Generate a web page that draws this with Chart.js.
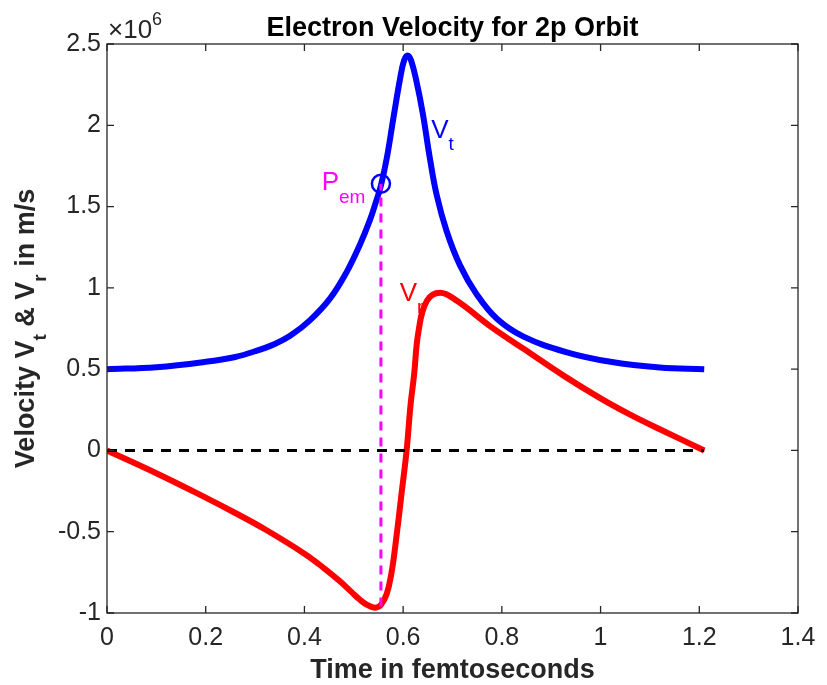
<!DOCTYPE html>
<html>
<head>
<meta charset="utf-8">
<script src="https://cdn.jsdelivr.net/npm/chart.js@4/dist/chart.umd.min.js"></script>
<style>
  html, body { margin: 0; padding: 0; background: #fff; }
  #wrap { width: 827px; height: 685px; position: relative; }
</style>
</head>
<body>
<div id="wrap"><canvas id="chart"></canvas></div>
<script>
// velocities in units of 1e6 m/s, time in fs
const tVt = [0, 0.1, 0.2, 0.26, 0.3, 0.34, 0.371, 0.411, 0.452, 0.486, 0.513, 0.533, 0.545, 0.555,
  0.567, 0.58, 0.594, 0.602, 0.609, 0.616, 0.627, 0.64, 0.654, 0.668, 0.688, 0.715, 0.749, 0.79,
  0.844, 0.93, 1.02, 1.12, 1.21];
const vt = [0.5, 0.512, 0.545, 0.575, 0.61, 0.655, 0.705, 0.8, 0.935, 1.1, 1.27, 1.42, 1.53, 1.63,
  1.8, 2.04, 2.29, 2.4, 2.43, 2.4, 2.27, 2.07, 1.8, 1.57, 1.35, 1.14, 0.96, 0.81,
  0.7, 0.605, 0.545, 0.51, 0.5];

const tVr = [0, 0.1, 0.19, 0.26, 0.32, 0.4, 0.44, 0.472, 0.495, 0.512, 0.528, 0.543, 0.555, 0.567,
  0.576, 0.584, 0.597, 0.607, 0.615, 0.622, 0.631, 0.648, 0.675, 0.709, 0.776, 0.844, 0.925, 1.0,
  1.06, 1.12, 1.21];
const vr = [0, -0.14, -0.275, -0.385, -0.485, -0.635, -0.725, -0.805, -0.87, -0.917, -0.952, -0.967,
  -0.95, -0.88, -0.76, -0.59, -0.26, 0, 0.28, 0.46, 0.73, 0.92, 0.97, 0.92, 0.765, 0.625, 0.46, 0.32,
  0.22, 0.13, 0];

const zeroT = [0, 1.21];
const zeroV = [0, 0];
const pemT = [0.555, 0.555];
const pemV = [-0.96, 1.64];
const pemPoint = { t: 0.555, v: 1.64 };

const xTickVals = [0, 0.2, 0.4, 0.6, 0.8, 1, 1.2, 1.4];
const yTickVals = [-1, -0.5, 0, 0.5, 1, 1.5, 2, 2.5];

const AX = '#262626';
const FONT = '"Liberation Sans", Arial, sans-serif';

function pts(xs, ys) {
  return xs.map((x, i) => ({ x: x, y: ys[i] }));
}

// draw text made of [text, isSub] parts, left to right
function drawParts(ctx, parts, x, y, size, subSize, bold, color, subDrop) {
  ctx.fillStyle = color;
  ctx.textBaseline = 'alphabetic';
  ctx.textAlign = 'left';
  let cx = x;
  parts.forEach(([txt, sub]) => {
    ctx.font = (bold ? 'bold ' : '') + (sub ? subSize : size) + 'px ' + FONT;
    ctx.fillText(txt, cx, sub ? y + subDrop : y);
    cx += ctx.measureText(txt).width;
  });
  return cx - x;
}

function partsWidth(ctx, parts, size, subSize, bold) {
  let w = 0;
  parts.forEach(([txt, sub]) => {
    ctx.font = (bold ? 'bold ' : '') + (sub ? subSize : size) + 'px ' + FONT;
    w += ctx.measureText(txt).width;
  });
  return w;
}

const decorations = {
  id: 'decorations',
  afterDraw(chart) {
    const { ctx, chartArea: a, scales } = chart;
    const xs = scales.x, ys = scales.y;
    ctx.save();

    // box
    ctx.strokeStyle = AX;
    ctx.lineWidth = 1.3;
    ctx.strokeRect(a.left, a.top, a.right - a.left, a.bottom - a.top);

    // inward ticks on all sides
    const tl = 7;
    ctx.beginPath();
    xTickVals.forEach(v => {
      const px = xs.getPixelForValue(v);
      ctx.moveTo(px, a.bottom); ctx.lineTo(px, a.bottom - tl);
      ctx.moveTo(px, a.top); ctx.lineTo(px, a.top + tl);
    });
    yTickVals.forEach(v => {
      const py = ys.getPixelForValue(v);
      ctx.moveTo(a.left, py); ctx.lineTo(a.left + tl, py);
      ctx.moveTo(a.right, py); ctx.lineTo(a.right - tl, py);
    });
    ctx.stroke();

    // title
    ctx.fillStyle = '#000';
    ctx.font = 'bold 27px ' + FONT;
    ctx.textAlign = 'center';
    ctx.textBaseline = 'alphabetic';
    ctx.fillText('Electron Velocity for 2p Orbit', (a.left + a.right) / 2, 36);

    // x label
    ctx.fillStyle = AX;
    ctx.fillText('Time in femtoseconds', (a.left + a.right) / 2, 678);

    // y label (rotated, with subscripts)
    const yParts = [['Velocity V', false], ['t', true], [' & V', false], ['r', true], [' in m/s', false]];
    const w = partsWidth(ctx, yParts, 27, 19, true);
    ctx.save();
    ctx.translate(34, (a.top + a.bottom) / 2);
    ctx.rotate(-Math.PI / 2);
    drawParts(ctx, yParts, -w / 2, 0, 27, 19, true, AX, 12);
    ctx.restore();

    // exponent
    const xw = drawParts(ctx, [['\u00d710', false]], a.left + 1, 38, 26, 18, false, AX, 0);
    ctx.font = '18px ' + FONT;
    ctx.fillStyle = AX;
    ctx.fillText('6', a.left + 1 + xw, 25);

    // curve labels
    drawParts(ctx, [['V', false], ['t', true]], xs.getPixelForValue(0.657), ys.getPixelForValue(1.92),
      26, 19, false, '#0000ff', 12);
    drawParts(ctx, [['P', false], ['em', true]], xs.getPixelForValue(0.435), ys.getPixelForValue(1.6),
      26, 19, false, '#ff00ff', 13);
    drawParts(ctx, [['V', false], ['r', true]], xs.getPixelForValue(0.593), ys.getPixelForValue(0.92),
      26, 19, false, '#ff0000', 12);

    ctx.restore();
  }
};

new Chart(document.getElementById('chart'), {
  type: 'line',
  data: {
    datasets: [
      {
        label: 'Pem',
        data: [{ x: pemPoint.t, y: pemPoint.v }],
        showLine: false,
        pointStyle: 'circle',
        pointRadius: 9,
        pointBorderWidth: 2.5,
        pointBorderColor: '#0000ff',
        pointBackgroundColor: 'rgba(0,0,0,0)',
        order: 0
      },
      {
        label: 'Pem line',
        data: pts(pemT, pemV),
        borderColor: '#ff00ff',
        borderWidth: 3,
        borderDash: [9, 7],
        pointRadius: 0,
        order: 1
      },
      {
        label: 'zero',
        data: pts(zeroT, zeroV),
        borderColor: '#000000',
        borderWidth: 3,
        borderDash: [10, 8],
        pointRadius: 0,
        order: 1
      },
      {
        label: 'Vt',
        data: pts(tVt, vt),
        borderColor: '#0000ff',
        borderWidth: 6,
        pointRadius: 0,
        tension: 0.4,
        order: 2
      },
      {
        label: 'Vr',
        data: pts(tVr, vr),
        borderColor: '#ff0000',
        borderWidth: 6,
        pointRadius: 0,
        tension: 0.4,
        order: 2
      }
    ]
  },
  options: {
    responsive: true,
    maintainAspectRatio: false,
    animation: false,
    layout: { padding: { top: 44, right: 29, left: 0, bottom: 0 } },
    plugins: {
      legend: { display: false },
      tooltip: { enabled: false },
      title: { display: false }
    },
    scales: {
      x: {
        type: 'linear',
        min: 0,
        max: 1.4,
        afterBuildTicks: s => { s.ticks = xTickVals.map(v => ({ value: v })); },
        afterFit: s => { s.height = 72; },
        grid: { display: false, drawTicks: false },
        border: { display: false },
        ticks: {
          padding: 10,
          color: AX,
          font: { family: FONT, size: 25 },
          maxRotation: 0,
          callback: v => String(Number(v.toFixed(2)))
        }
      },
      y: {
        type: 'linear',
        min: -1,
        max: 2.5,
        afterBuildTicks: s => { s.ticks = yTickVals.map(v => ({ value: v })); },
        afterFit: s => { s.width = 107; },
        grid: { display: false, drawTicks: false },
        border: { display: false },
        ticks: {
          padding: 6,
          color: AX,
          font: { family: FONT, size: 25 },
          callback: v => String(Number(v.toFixed(2)))
        }
      }
    }
  },
  plugins: [decorations]
});
</script>
</body>
</html>
